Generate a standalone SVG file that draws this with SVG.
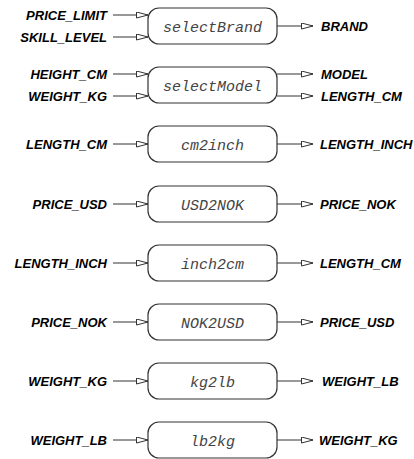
<svg xmlns="http://www.w3.org/2000/svg" width="414" height="459" viewBox="0 0 414 459">
<defs>
<marker id="arr" markerUnits="userSpaceOnUse" markerWidth="13" markerHeight="8" refX="12" refY="3.5" orient="auto">
<path d="M0.5,0.5 L12,3.5 L0.5,6.5 z" fill="#fff" stroke="#333" stroke-width="1"/>
</marker>
<style>
.box{fill:#fff;stroke:#333;stroke-width:1.2}
.fn{font-family:"Liberation Mono","Courier New",monospace;font-style:italic;font-size:15px;fill:#444;text-anchor:middle}
.lbl{font-family:"Liberation Sans",Arial,sans-serif;font-style:italic;font-weight:bold;font-size:13px;fill:#000}
.in{text-anchor:end}
.c{stroke:#333;stroke-width:1;fill:none;marker-end:url(#arr)}
</style>
</defs>
<g id="connectors">
<line class="c" x1="113" y1="15" x2="148" y2="15"/>
<line class="c" x1="113" y1="37" x2="148" y2="37"/>
<line class="c" x1="277" y1="26" x2="313" y2="26"/>
<line class="c" x1="113" y1="74" x2="148" y2="74"/>
<line class="c" x1="113" y1="96" x2="148" y2="96"/>
<line class="c" x1="277" y1="74" x2="313" y2="74"/>
<line class="c" x1="277" y1="96" x2="313" y2="96"/>
<line class="c" x1="113" y1="144" x2="148" y2="144"/>
<line class="c" x1="277" y1="144" x2="313" y2="144"/>
<line class="c" x1="113" y1="204" x2="148" y2="204"/>
<line class="c" x1="277" y1="204" x2="313" y2="204"/>
<line class="c" x1="113" y1="263" x2="148" y2="263"/>
<line class="c" x1="277" y1="263" x2="313" y2="263"/>
<line class="c" x1="113" y1="322" x2="148" y2="322"/>
<line class="c" x1="277" y1="322" x2="313" y2="322"/>
<line class="c" x1="113" y1="381" x2="148" y2="381"/>
<line class="c" x1="277" y1="381" x2="313" y2="381"/>
<line class="c" x1="113" y1="440" x2="148" y2="440"/>
<line class="c" x1="277" y1="440" x2="313" y2="440"/>
</g>
<g id="selectBrand">
<rect class="box" x="148" y="8" width="129" height="36" rx="11"/>
<text class="fn" x="212.5" y="32">selectBrand</text>
<text class="lbl in" x="107" y="19.5">PRICE_LIMIT</text>
<text class="lbl in" x="107" y="41.5">SKILL_LEVEL</text>
<text class="lbl" x="321" y="30.5">BRAND</text>
</g>
<g id="selectModel">
<rect class="box" x="148" y="67" width="129" height="36" rx="11"/>
<text class="fn" x="212.5" y="91">selectModel</text>
<text class="lbl in" x="107" y="78.5">HEIGHT_CM</text>
<text class="lbl in" x="107" y="100.5">WEIGHT_KG</text>
<text class="lbl" x="321" y="78.5">MODEL</text>
<text class="lbl" x="321" y="100.5">LENGTH_CM</text>
</g>
<g id="cm2inch">
<rect class="box" x="148" y="126" width="129" height="36" rx="11"/>
<text class="fn" x="212.5" y="150">cm2inch</text>
<text class="lbl in" x="107" y="148.5">LENGTH_CM</text>
<text class="lbl" x="320" y="148.5">LENGTH_INCH</text>
</g>
<g id="USD2NOK">
<rect class="box" x="148" y="186" width="129" height="36" rx="11"/>
<text class="fn" x="212.5" y="210">USD2NOK</text>
<text class="lbl in" x="107" y="208.5">PRICE_USD</text>
<text class="lbl" x="320" y="208.5">PRICE_NOK</text>
</g>
<g id="inch2cm">
<rect class="box" x="148" y="245" width="129" height="36" rx="11"/>
<text class="fn" x="212.5" y="269">inch2cm</text>
<text class="lbl in" x="107" y="267.5">LENGTH_INCH</text>
<text class="lbl" x="320" y="267.5">LENGTH_CM</text>
</g>
<g id="NOK2USD">
<rect class="box" x="148" y="304" width="129" height="36" rx="11"/>
<text class="fn" x="212.5" y="328">NOK2USD</text>
<text class="lbl in" x="107" y="326.5">PRICE_NOK</text>
<text class="lbl" x="320" y="326.5">PRICE_USD</text>
</g>
<g id="kg2lb">
<rect class="box" x="148" y="363" width="129" height="36" rx="11"/>
<text class="fn" x="212.5" y="387">kg2lb</text>
<text class="lbl in" x="107" y="385.5">WEIGHT_KG</text>
<text class="lbl" x="322" y="385.5">WEIGHT_LB</text>
</g>
<g id="lb2kg">
<rect class="box" x="148" y="422" width="129" height="36" rx="11"/>
<text class="fn" x="212.5" y="446">lb2kg</text>
<text class="lbl in" x="107" y="444.5">WEIGHT_LB</text>
<text class="lbl" x="319" y="444.5">WEIGHT_KG</text>
</g>
</svg>
